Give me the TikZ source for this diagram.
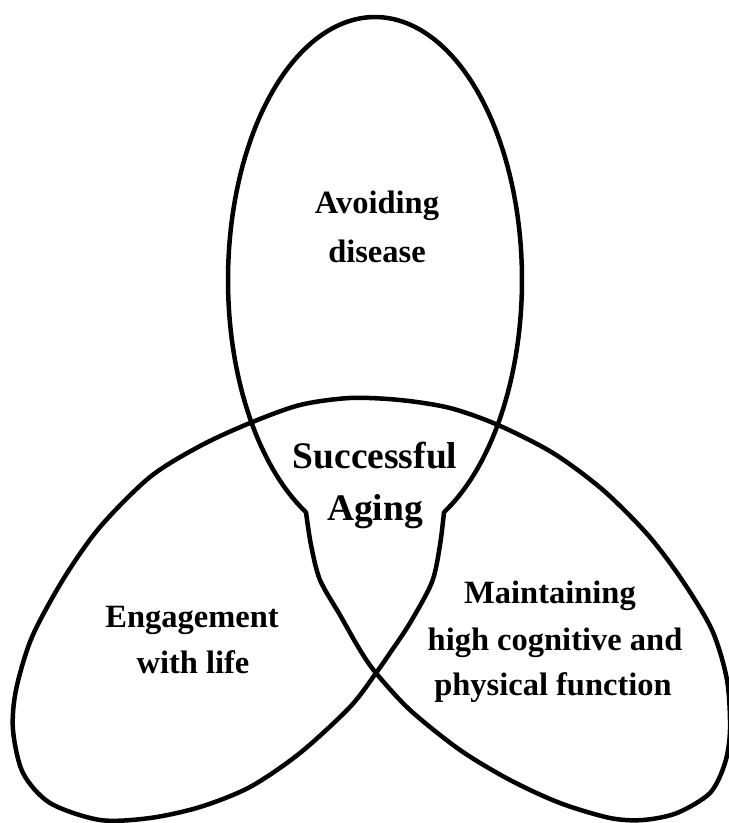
\documentclass[tikz,border=0pt]{standalone}
\usepackage{fontspec}
\setmainfont{Liberation Serif}
\begin{document}
\begin{tikzpicture}[x=1pt,y=-1pt,
  outline/.style={line width=4.5pt,line join=round,line cap=round},
  lbl/.style={inner sep=0pt,anchor=base,font=\fontsize{32.5}{38}\selectfont\bfseries},
  biglbl/.style={inner sep=0pt,anchor=base,font=\fontsize{37.5}{42}\selectfont\bfseries}]
\useasboundingbox (0,0) rectangle (729,823);
\draw[outline]
  plot[domain=118:422,samples=150] ({375+147*cos(\x)},{280+263*sin(\x)})
  -- plot[smooth,tension=0.5] coordinates {
    (444,512.2) (440,545) (432,582) (410,623) (390,653) (376,673)
    (350,707) (300,753) (250,787) (200,807) (150,818) (100,820)
    (50,803) (23,773) (13,730) (16,690) (32,637) (64,578) (100,527)
    (150,477) (200,446) (250,423) (300,405) (350,398) (400,400) (450,408)
    (498,425) (553,453) (603,490) (648,535) (682,580) (712,630)
    (727,680) (730,730) (725,763) (710,793) (677,813) (643,820)
    (610,818) (560,803) (510,780) (460,750) (410,710) (376,673)
    (360,650) (340,615) (320,580) (311,545) (306,512.2)} -- cycle;
\node[lbl] (avoid1) at (377,213) {Avoiding};
\node[lbl] (avoid2) at (377,262) {disease};
\node[biglbl] (succ1) at (375,468) {Successful};
\node[biglbl] (succ2) at (375,520) {Aging};
\node[lbl] (eng1) at (192,627) {Engagement};
\node[lbl] (eng2) at (193,673) {with life};
\node[lbl] (main1) at (550,603) {Maintaining};
\node[lbl] (main2) at (555,650) {high cognitive and};
\node[lbl] (main3) at (553,695) {physical function};
\end{tikzpicture}
\end{document}
